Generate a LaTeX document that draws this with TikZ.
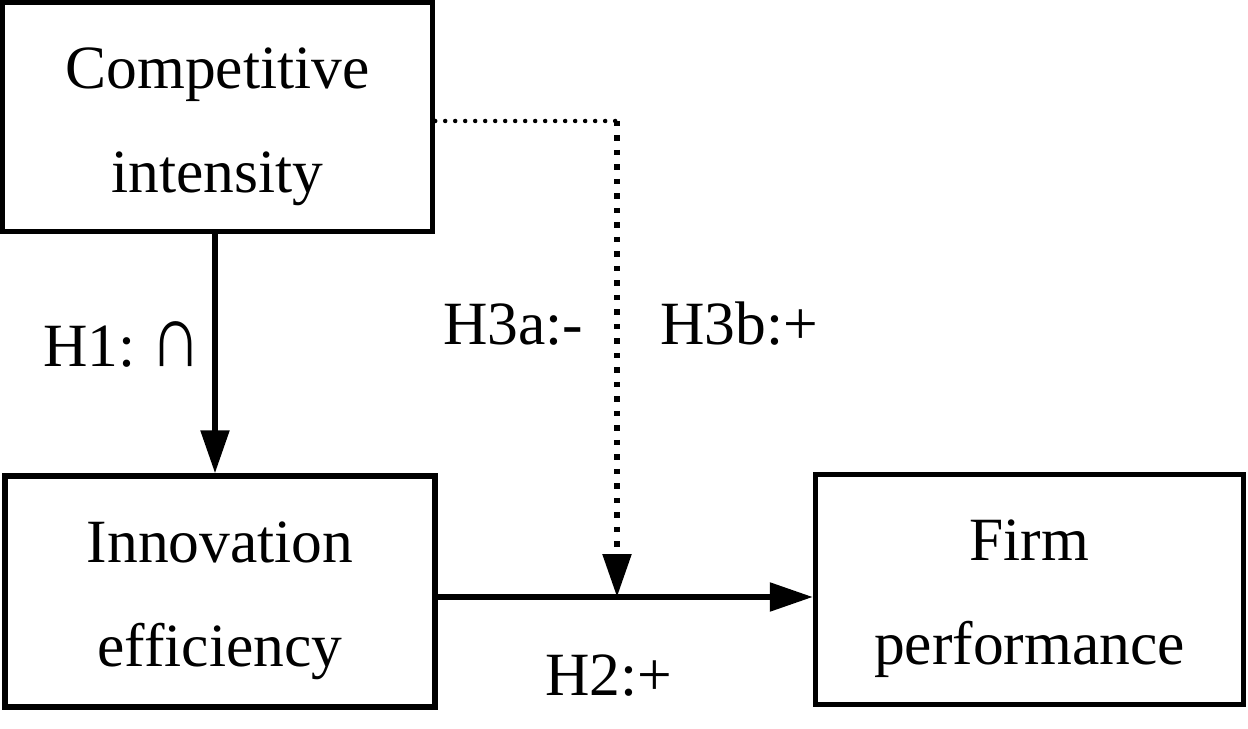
\documentclass[tikz,border=0pt]{standalone}
\usepackage{fontspec}
\setmainfont{Liberation Serif}
\usetikzlibrary{arrows.meta}
\newcommand{\topgap}{\rule{0pt}{34pt}}

\begin{document}
\begin{tikzpicture}[
  x=0.02cm, y=-0.02cm,
  box/.style={rectangle, draw, line width=0.11cm, align=center, inner sep=0pt,
    minimum width=8.6cm, minimum height=4.6cm, font=\fontsize{35}{59}\selectfont},
  lbl/.style={anchor=base west, inner sep=0pt, font=\fontsize{35}{42}\selectfont},
  arr/.style={-{Triangle[length=0.86cm, width=0.56cm]}, line width=0.11cm},
  dotline/.style={line width=0.09cm, line cap=round, dash pattern=on 0pt off 0.2cm},
  dotarr/.style={-{Triangle[length=0.86cm, width=0.56cm]}, line width=0.11cm,
    dash pattern=on 0.11cm off 0.18cm}
]
\useasboundingbox (0,0) rectangle (1248,729);

% boxes
\node[box, minimum height=4.59cm] (comp)  at (217.5,117)  {\topgap Competitive\\intensity};
\node[box, minimum height=4.62cm] (innov) at (220,591.5)  {\topgap Innovation\\efficiency};
\node[box, minimum width=8.56cm]  (firm)  at (1029.5,589.5) {\topgap Firm\\performance};

\coordinate (bend) at (617,121);
\coordinate (join) at (617,597);
\coordinate (drop) at (215,0);

% connectors
\draw[arr] (comp.south -| drop) -- (drop |- innov.north);
\draw[arr] (innov.east |- join) -- (firm.west |- join);
\draw[dotline] (comp.east |- bend) -- (bend);
\draw[dotarr] (bend) -- (join);

% hypotheses
\node[lbl] (h1)  at (43,367)  {H1:\hspace{0.25em}\scalebox{1.15}[1.45]{∩}};
\node[lbl] (h3a) at (443,345) {H3a:-};
\node[lbl] (h3b) at (660,345) {H3b:+};
\node[lbl] (h2)  at (545,695) {H2:+};
\end{tikzpicture}
\end{document}
